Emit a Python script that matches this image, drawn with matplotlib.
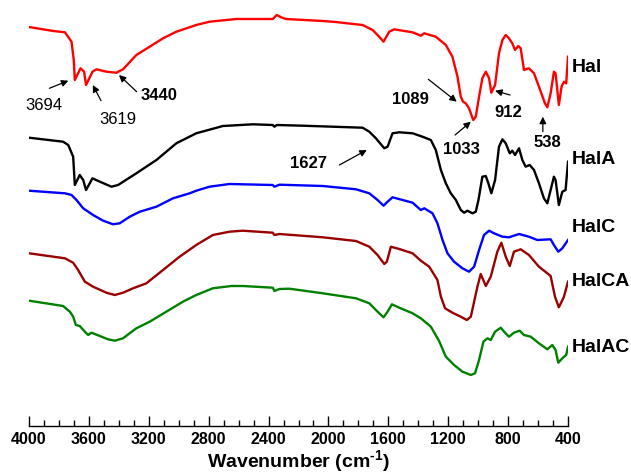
import matplotlib
matplotlib.use('Agg')
import matplotlib.pyplot as plt
from matplotlib.ticker import MultipleLocator

plt.rcParams['font.family'] = ['Liberation Sans', 'DejaVu Sans']
plt.rcParams['mathtext.fontset'] = 'custom'
plt.rcParams['mathtext.rm'] = 'Liberation Sans:bold'
plt.rcParams['mathtext.default'] = 'rm'

# FTIR spectra, stacked transmittance (a.u.)
hal_wn = [4000, 3838, 3760, 3716, 3701, 3694, 3656, 3632, 3619, 3576, 3549, 3483, 3416, 3372,
          3283, 3194, 3105, 3016, 2883, 2794, 2616, 2372, 2345, 2316, 2283, 2038, 1952, 1772,
          1705, 1661, 1632, 1594, 1561, 1505, 1438, 1383, 1360, 1283, 1216, 1172, 1138, 1116,
          1101, 1083, 1061, 1033, 1016, 994, 972, 949, 927, 912, 887, 861, 838, 816, 794, 772,
          754, 732, 716, 694, 661, 627, 594, 554, 538, 516, 494, 483, 461, 443, 427, 412, 400]
hal_t = [423, 419, 417.7, 408.3, 390, 370, 381.7, 378.3, 365, 378.3, 380.7, 378.3, 377.3, 380.7,
         395, 403.3, 411.7, 418.3, 425, 428.3, 431, 431, 435, 432.7, 431, 429, 428, 425,
         420, 413.3, 408.3, 418.3, 420.7, 419.3, 417.7, 414.3, 416.7, 413.3, 405, 393.3, 373.3, 353.3,
         348.3, 346.7, 341.7, 330, 333.3, 353.3, 371.7, 378.3, 371.7, 357.3, 365, 396.7, 410, 415, 411.7, 406.7,
         400, 404, 401.7, 380, 381.7, 376.7, 363.3, 346.7, 342.7, 356.7, 378.3, 376.7, 345, 363.3, 368.3, 366.7, 393.3]

hala_wn = [4000, 3772, 3738, 3705, 3694, 3661, 3638, 3619, 3576, 3527, 3449, 3405, 3283, 3149,
           3016, 2883, 2705, 2505, 2372, 2361, 2345, 2172, 1772, 1727, 1683, 1627, 1605, 1572,
           1527, 1438, 1372, 1316, 1283, 1249, 1216, 1183, 1149, 1116, 1094, 1072, 1038, 1016,
           998, 972, 949, 932, 912, 887, 861, 838, 816, 789, 772, 754, 727, 705, 683, 656, 627,
           594, 561, 538, 516, 494, 483, 461, 438, 416, 400]
hala_t = [312.3, 308.3, 305, 293.3, 265, 275, 270, 260, 271.7, 268.3, 263.3, 265, 276.7, 290,
          306.7, 316.7, 324, 325.7, 325, 323.3, 325, 324.3, 322.3, 318.3, 311.7, 301.7, 303.3, 316.7,
          317.7, 316.7, 313.3, 310, 300, 280, 266.7, 256.7, 250, 240, 237.3, 239.3, 236.7, 238.3,
          250, 273.3, 274, 266.7, 256.7, 270, 303.3, 310.7, 306.7, 296.7, 299.3, 295, 301.7, 290, 283.3, 285, 280,
          266.7, 251.7, 246.7, 260, 273.3, 270, 245, 258.3, 260, 288.3]

halc_wn = [4000, 3816, 3760, 3716, 3683, 3638, 3572, 3505, 3438, 3394, 3327, 3260, 3149, 3038,
           2927, 2883, 2794, 2661, 2372, 2361, 2327, 2038, 1816, 1727, 1672, 1632, 1605, 1572,
           1505, 1438, 1383, 1360, 1305, 1272, 1238, 1205, 1161, 1105, 1061, 1027, 994, 961,
           927, 894, 838, 794, 727, 661, 605, 516, 494, 465, 438, 400]
halc_t = [259.3, 257.3, 256.7, 255, 250, 241.7, 235, 229.3, 225.7, 226.7, 233.3, 238.3, 243.3, 251.7,
          256.7, 259.3, 263.3, 266, 265, 263.3, 265.3, 264, 260.7, 256.7, 250, 244.3, 248.3, 252.7,
          250, 247.3, 240, 241.7, 236.7, 226.7, 210, 196.7, 188.3, 181.7, 178.3, 183.3, 200, 215,
          219.3, 216.7, 213.3, 212.7, 216, 213.3, 210, 210.7, 205, 198.3, 201.7, 210]

halca_wn = [4000, 3760, 3705, 3672, 3627, 3572, 3483, 3427, 3372, 3305, 3216, 3105, 2994, 2883,
            2772, 2661, 2572, 2372, 2361, 2327, 2038, 1816, 1727, 1672, 1627, 1610, 1583, 1527,
            1438, 1383, 1327, 1272, 1249, 1221, 1172, 1116, 1076, 1049, 1005, 983, 949, 916,
            872, 845, 816, 789, 761, 716, 661, 594, 538, 516, 487, 461, 427, 400]
halca_t = [196.7, 191.7, 187.3, 180, 168.3, 163.3, 157.3, 155, 157.3, 161.7, 166.7, 180, 193.3, 205,
           215, 218.3, 219.3, 217.3, 215, 216, 212.7, 209, 203.3, 195, 186, 188.3, 203.3, 201,
           196.7, 189.3, 183.3, 170, 153.3, 141.7, 137.3, 133.3, 130, 133.3, 163.3, 176, 164, 173.3,
           198.3, 207.3, 193.3, 184, 198.3, 200.7, 195, 183.3, 176.7, 174, 153.3, 142.7, 153.3, 168.3]

halac_wn = [4000, 3772, 3727, 3705, 3687, 3661, 3627, 3605, 3583, 3527, 3472, 3427, 3372, 3283,
            3194, 3083, 2972, 2883, 2772, 2649, 2572, 2372, 2361, 2327, 2261, 2038, 1816, 1727,
            1672, 1632, 1605, 1576, 1527, 1438, 1383, 1316, 1261, 1216, 1161, 1105, 1049, 1021,
            994, 965, 938, 916, 887, 849, 821, 794, 761, 723, 694, 649, 594, 538, 505, 483,
            465, 438, 412, 400]
halac_t = [149.3, 144, 138.3, 133.3, 125, 124, 118.3, 115, 117.3, 114, 110.7, 109.3, 111.7, 121.7,
           128.3, 138.3, 148.3, 155, 161.7, 164, 164, 162.3, 159, 161, 161.3, 156.7, 151.7, 146.7,
           138.3, 132.7, 138.3, 145.7, 142.3, 136.7, 131.7, 123.3, 109, 93.3, 85, 78.3, 75, 76.7,
           90, 108.3, 111.7, 110, 118.3, 122.3, 117.3, 113.3, 117.3, 119.3, 115, 113.3, 106.7, 100.7, 105, 100,
           87.3, 91.7, 95, 103.3]

names = ['Hal', 'HalA', 'HalC', 'HalCA', 'HalAC']
colors = ['#ff0000', '#000000', '#0000ff', '#990000', '#008000']
label_y = [382, 290, 222, 168, 102]

# peak labels: text, text position, arrow tail, arrow tip, bold?
peak_text = ['3694', '3619', '3440', '1089', '1033', '912', '538', '1627']
peak_xy = [(3903, 344), (3405, 330.7), (3132, 355), (1455, 351), (1114, 301), (800, 337.3), (536, 307.3), (2136, 287)]
peak_tail = [(3864, 361.7), (3519, 349.3), (3281, 358.3), (1333, 370.7), (1154, 315), (787, 355), (568, 318.3), (1927, 285)]
peak_tip = [(3737, 369.3), (3574, 365), (3399, 375), (1143, 348.3), (1049, 328.3), (887, 359.3), (568, 333.3), (1744, 300)]
peak_bold = [False, False, True, True, True, True, True, True]

fig = plt.figure(figsize=(6.31, 4.75), dpi=100)
ax = fig.add_axes([29 / 631, 1 - 426 / 475, 539 / 631, 426 / 475])

spectra = [(hal_wn, hal_t), (hala_wn, hala_t), (halc_wn, halc_t), (halca_wn, halca_t), (halac_wn, halac_t)]
for (wn, t), name, c, ly in zip(spectra, names, colors, label_y):
    ax.plot(wn, t, color=c, lw=1.7)
    ax.text(372, ly, name, color='k', fontsize=14, fontweight='bold', va='center', ha='left')

for txt, xy, tail, tip, b in zip(peak_text, peak_xy, peak_tail, peak_tip, peak_bold):
    ax.text(xy[0], xy[1], txt, fontsize=12, fontweight='bold' if b else 'normal',
            ha='center', va='center')
    ax.annotate('', xy=tip, xytext=tail,
                arrowprops=dict(arrowstyle='-|>', color='k', lw=0.9, mutation_scale=10, shrinkA=0, shrinkB=0))

ax.set_xlim(4000, 400)
ax.set_ylim(24, 450)
for s in ['top', 'left', 'right']:
    ax.spines[s].set_visible(False)
ax.spines['bottom'].set_linewidth(1.0)
ax.set_yticks([])
ax.xaxis.set_major_locator(MultipleLocator(400))
ax.xaxis.set_minor_locator(MultipleLocator(100))
ax.tick_params(axis='x', which='major', direction='in', length=7, width=1, pad=4, labelsize=11.5)
ax.tick_params(axis='x', which='minor', direction='in', length=4, width=1)
for lab in ax.get_xticklabels():
    lab.set_fontweight('bold')
ax.set_xlabel(r'Wavenumber (cm$^{\text{-}1}$)', fontsize=14, fontweight='bold', labelpad=1)

fig.savefig('out.png', dpi=100)
